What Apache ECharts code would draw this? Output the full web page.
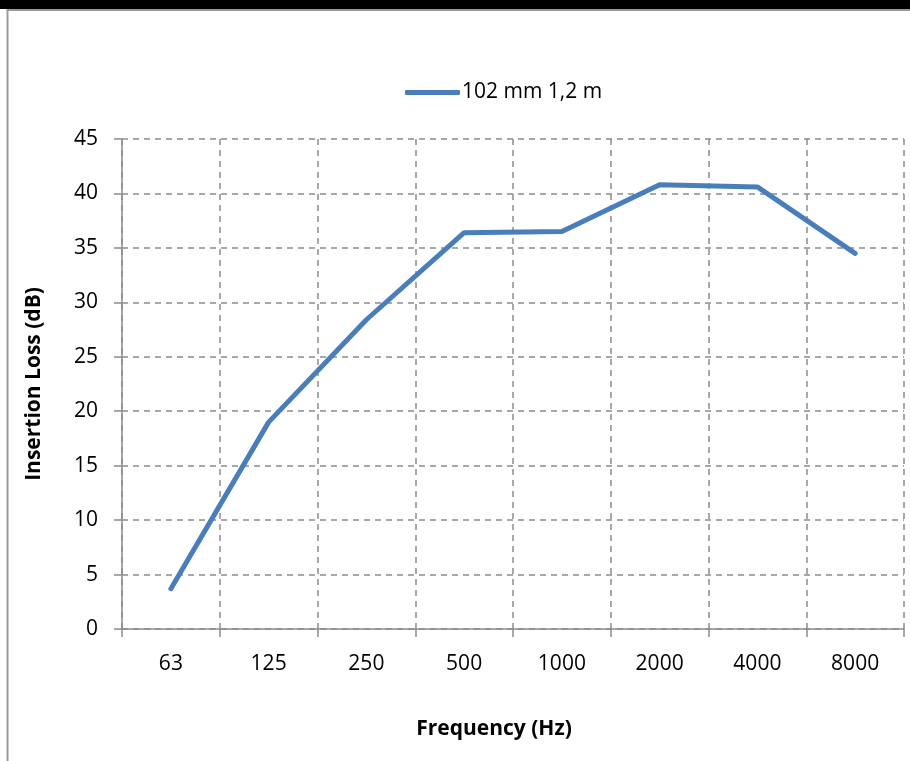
<!DOCTYPE html>
<html>
<head>
<meta charset="utf-8">
<script src="https://cdn.jsdelivr.net/npm/echarts@6/dist/echarts.min.js"></script>
<style>
	html, body { margin: 0; padding: 0; background: #fff; }
	#myChart { width: 910px; height: 761px; }
</style>
</head>
<body>
<div id="myChart"></div>
<script>
// frequency bands (Hz)
const frequencies = ["63", "125", "250", "500", "1000", "2000", "4000", "8000"];
// insertion loss (dB)
const insertionLoss = [3.7, 19.0, 28.4, 36.4, 36.5, 40.8, 40.6, 34.5];
const seriesName = "102 mm 1,2 m";

const font = "Open Sans";
const axisGray = "#8c8c8c";

let myChart = echarts.init(document.getElementById("myChart"));
myChart.setOption({
	animation: false,
	backgroundColor: "#fff",
	textStyle: { fontFamily: font },
	graphic: [
		// black strip at the top
		{ type: "rect", shape: { x: 0, y: 0, width: 910, height: 9 }, style: { fill: "#000" } },
		// gray frame of the chart box
		{ type: "line", shape: { x1: 7.5, y1: 9, x2: 7.5, y2: 761 }, style: { stroke: "#9a9a9a", lineWidth: 2 } },
		{ type: "line", shape: { x1: 7, y1: 10, x2: 910, y2: 10 }, style: { stroke: "#9a9a9a", lineWidth: 2 } },
	],
	legend: {
		data: [seriesName],
		left: 400,
		top: 77,
		icon: "roundRect",
		itemWidth: 55,
		itemHeight: 5,
		itemGap: 10,
		textStyle: { fontFamily: font, fontSize: 21, color: "#000", padding: [0, 0, 0, -3] },
	},
	grid: {
		left: 122,
		right: 6,
		top: 139,
		bottom: 132,
	},
	xAxis: {
		type: "category",
		data: frequencies,
		boundaryGap: true,
		name: "Frequency (Hz)",
		nameLocation: "middle",
		nameGap: 90,
		nameTextStyle: { fontFamily: font, fontSize: 21, fontWeight: "bold", color: "#000", padding: [0, 38, 0, 0] },
		axisLine: { lineStyle: { color: axisGray, width: 1.5 } },
		axisTick: { show: true, length: 8, interval: 0, lineStyle: { color: axisGray, width: 1.5 } },
		axisLabel: { margin: 25, fontSize: 21, color: "#000", interval: 0 },
		splitLine: {
			show: true,
			interval: 0,
			lineStyle: { color: axisGray, type: [6, 5], width: 1.5 },
		},
	},
	yAxis: {
		type: "value",
		min: 0,
		max: 45,
		interval: 5,
		name: "Insertion Loss (dB)",
		nameLocation: "middle",
		nameGap: 77,
		nameTextStyle: { fontFamily: font, fontSize: 21, fontWeight: "bold", color: "#000" },
		axisLine: { show: true, lineStyle: { color: axisGray, width: 1.5 } },
		axisTick: { show: true, length: 8, lineStyle: { color: axisGray, width: 1.5 } },
		axisLabel: { margin: 24, fontSize: 21, color: "#000" },
		splitLine: {
			show: true,
			lineStyle: { color: axisGray, type: [6, 5], width: 1.5 },
		},
	},
	series: [
		{
			name: seriesName,
			type: "line",
			data: insertionLoss,
			symbol: "none",
			color: "#4a7ebb",
			lineStyle: { width: 5, color: "#4a7ebb", cap: "round", join: "round" },
		},
	],
});
</script>
</body>
</html>
